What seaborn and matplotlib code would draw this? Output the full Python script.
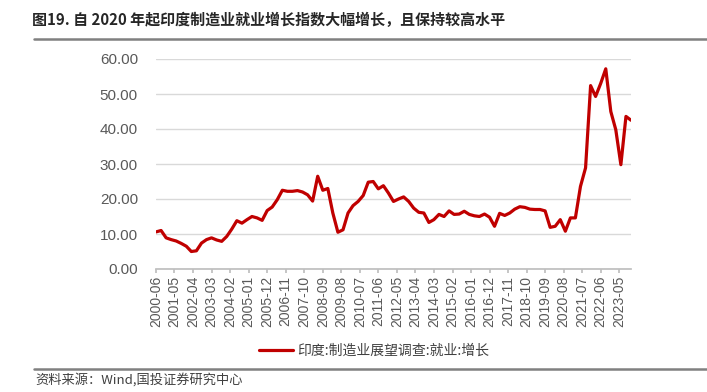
import pandas as pd
import numpy as np
import matplotlib
matplotlib.use('Agg')
import matplotlib.pyplot as plt
import seaborn as sns

# quarterly readings, 2000-06 .. 2023-12
start_month = '2000-06-01'
values = [10.6, 11.0, 8.9, 8.4, 8.0, 7.3, 6.5, 5.0, 5.2, 7.4, 8.4, 8.9, 8.3, 7.9, 9.3,
          11.4, 13.8, 13.1, 14.1, 15.0, 14.6, 13.9, 16.7, 17.7, 19.8, 22.5, 22.2, 22.2,
          22.4, 22.0, 21.2, 19.4, 26.5, 22.5, 23.0, 16.0, 10.5, 11.2, 16.0, 18.1, 19.3,
          21.0, 24.8, 25.0, 22.9, 23.8, 21.7, 19.3, 20.0, 20.6, 19.3, 17.4, 16.2, 16.0,
          13.3, 14.1, 15.6, 15.0, 16.6, 15.6, 15.7, 16.5, 15.6, 15.2, 15.0, 15.7, 14.8,
          12.2, 15.9, 15.3, 16.0, 17.1, 17.8, 17.6, 17.1, 17.0, 17.0, 16.6, 11.9, 12.2,
          14.1, 10.8, 14.6, 14.6, 23.6, 28.9, 52.4, 49.3, 53.0, 57.2, 45.0, 39.8, 29.8,
          43.6, 42.5]
series_name = '印度:制造业展望调查:就业:增长'
title = '图19. 自 2020 年起印度制造业就业增长指数大幅增长，且保持较高水平'
source = '资料来源：Wind,国投证券研究中心'
y_ticks = [0, 10, 20, 30, 40, 50, 60]

dates = pd.date_range(start_month, periods=len(values), freq='3MS')
df = pd.DataFrame({'date': dates, series_name: values})
# axis labels every 11 months, 2000-06 .. 2023-05
tick_dates = pd.date_range(start_month, periods=26, freq='11MS')

sns.set_theme(style='white')
plt.rcParams['font.family'] = ['Liberation Sans', 'Noto Sans CJK SC', 'DejaVu Sans']

fig = plt.figure(figsize=(7.07, 3.92), dpi=100)
ax = fig.add_axes([156 / 707, 1 - 269 / 392, (631 - 156) / 707, (269 - 59) / 392])

sns.lineplot(data=df, x='date', y=series_name, ax=ax, color='#C00000',
             linewidth=2.3, label=series_name, legend=False)

ax.set_xlim(dates[0], dates[-1])
ax.set_ylim(0, 60)
ax.set_yticks(y_ticks)
ax.set_yticklabels([f'{v:.2f}' for v in y_ticks], color='#595959', fontsize=11)
ax.set_xticks(tick_dates)
ax.set_xticklabels([d.strftime('%Y-%m') for d in tick_dates], rotation=90,
                   color='#595959', fontsize=10)
ax.tick_params(axis='x', length=3, color='#BFBFBF', pad=2, bottom=True)
ax.tick_params(axis='y', length=0, pad=13)
ax.grid(axis='y', color='#D9D9D9', linewidth=1)
ax.set_xlabel('')
ax.set_ylabel('')
for s in ['left', 'right', 'top']:
    ax.spines[s].set_visible(False)
ax.spines['bottom'].set_color('#BFBFBF')

# legend below the chart
handles, labels = ax.get_legend_handles_labels()
fig.legend(handles, labels, loc='center', bbox_to_anchor=(374 / 707, 1 - 351 / 392),
           frameon=False, handlelength=2.4, handletextpad=0.3,
           labelcolor='#404040', prop={'family': ['Noto Sans CJK SC'], 'size': 10})

fig.text(32 / 707, 1 - 20 / 392, title, fontsize=10.8, fontweight='bold',
         va='center', ha='left', color='#262626', family=['Noto Sans CJK SC'])
fig.add_artist(plt.Line2D([34 / 707, 1], [1 - 39 / 392] * 2, color='#808080', linewidth=1.8))
fig.add_artist(plt.Line2D([34 / 707, 1], [1 - 369 / 392] * 2, color='#808080', linewidth=1.8))
fig.text(35 / 707, 1 - 380 / 392, source, fontsize=9.5, style='italic',
         va='center', ha='left', color='#404040', family=['Noto Sans CJK SC'])

fig.savefig('out.png', dpi=100)
